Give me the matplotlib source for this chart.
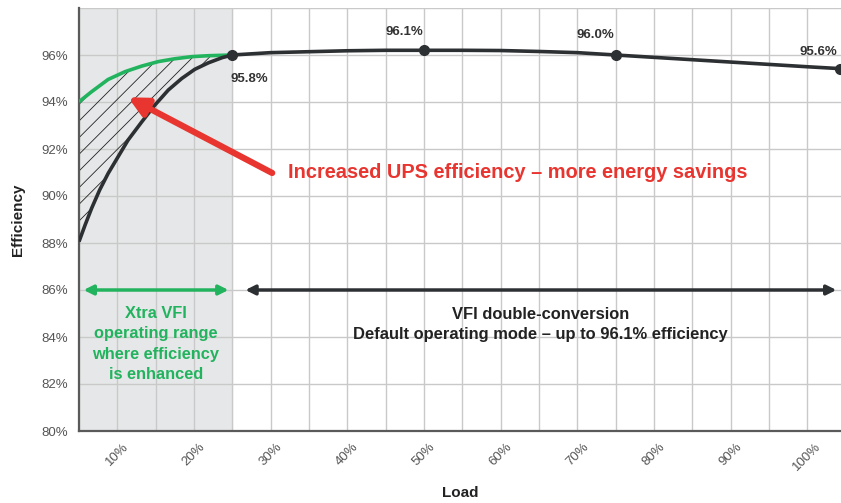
import numpy as np
import matplotlib
matplotlib.use('Agg')
from matplotlib import pyplot as plt

plt.rcParams['font.family'] = ['Liberation Sans', 'DejaVu Sans']
plt.rcParams['hatch.linewidth'] = 0.6

# standard VFI double-conversion curve (load %, efficiency %)
load_std = [5.0, 5.8, 6.65, 7.7, 8.8, 10.1, 11.4, 13.2, 14.9, 16.65, 18.4, 20.1, 21.9, 23.7, 25.0,
            30, 35, 40, 45, 50, 55, 60, 65, 70, 75, 80, 85, 90, 95, 100, 104.3]
eff_std = [88.06, 88.77, 89.48, 90.26, 90.96, 91.67, 92.38, 93.16, 93.87, 94.51, 95.0, 95.39, 95.67, 95.89, 96.0,
           96.1, 96.14, 96.18, 96.2, 96.2, 96.2, 96.19, 96.15, 96.1, 96.0, 95.9, 95.8, 95.7, 95.6, 95.5, 95.42]

# Xtra VFI curve
load_xtra = [5.0, 6.65, 8.8, 11.0, 13.2, 15.35, 17.5, 19.7, 21.9, 25.0]
eff_xtra = [94.01, 94.44, 94.96, 95.29, 95.53, 95.72, 95.84, 95.93, 95.97, 96.0]

# labelled points
pt_load = [25, 50, 75, 104.3]
pt_eff = [96.0, 96.2, 96.0, 95.42]
pt_text = ['95.8%', '96.1%', '96.0%', '95.6%']

dark = '#2d3033'
green = '#22b35e'
red = '#e8352f'
grid_c = '#c9c9c9'
tick_c = '#555555'

fig = plt.figure(figsize=(8.41, 5.03), dpi=100)
ax = fig.add_axes([79/841, 1 - 431/503, 1 - 79/841, (431 - 8)/503])

ax.set_xlim(5, 104.4)
ax.set_ylim(80, 98)

# shaded Xtra VFI zone
ax.axvspan(5, 25, color='#e6e7e8', zorder=0)

ax.set_xticks(np.arange(10, 101, 10))
ax.set_xticks(np.arange(5, 105, 5), minor=True)
ax.set_yticks(np.arange(80, 97, 2))
ax.set_yticks([98], minor=True)
ax.set_xticklabels(['{}%'.format(v) for v in range(10, 101, 10)], rotation=45,
                   ha='center', color=tick_c, fontsize=9.5)
ax.set_yticklabels(['{}%'.format(v) for v in range(80, 97, 2)], color=tick_c, fontsize=9.5)
ax.tick_params(which='both', length=0)
ax.tick_params(axis='x', pad=7)
ax.tick_params(axis='y', pad=8)
ax.grid(True, which='both', color=grid_c, lw=1, zorder=1)
ax.set_axisbelow(True)

for s in ['top', 'right']:
    ax.spines[s].set_visible(False)
for s in ['left', 'bottom']:
    ax.spines[s].set_color('#5a5a5a')
    ax.spines[s].set_linewidth(1.6)

# hatched gain area between curves
std_part = np.interp(load_xtra, load_std[:15], eff_std[:15])
ax.fill_between(load_xtra, std_part, eff_xtra, facecolor='none', edgecolor='#222222',
                hatch='//', lw=0, zorder=2)

ax.plot(load_xtra, eff_xtra, color=green, lw=2.6, zorder=3, solid_capstyle='butt')
ax.plot(load_std, eff_std, color=dark, lw=2.6, zorder=4, solid_capstyle='butt')
ax.plot(pt_load, pt_eff, 'o', color=dark, ms=7, zorder=5, clip_on=False)

offs = [(2.2, -1.0), (-2.6, 0.78), (-2.6, 0.85), (-2.8, 0.7)]
for x, y, t, (dx, dy) in zip(pt_load, pt_eff, pt_text, offs):
    ax.text(x + dx, y + dy, t, ha='center', va='center', fontsize=9.5,
            fontweight='bold', color='#333333')

# red arrow + message
ax.annotate('', xy=(11.4, 94.2), xytext=(30.2, 90.98),
            arrowprops=dict(arrowstyle='-|>', color=red, lw=4.5, mutation_scale=28,
                            shrinkA=0, shrinkB=0), zorder=6)
ax.text(32.2, 91.0, 'Increased UPS efficiency \u2013 more energy savings', color=red,
        fontsize=14.4, fontweight='bold', ha='left', va='center')

# range arrows
ax.annotate('', xy=(5.6, 86.0), xytext=(24.5, 86.0),
            arrowprops=dict(arrowstyle='<|-|>', color=green, lw=2.5, mutation_scale=14,
                            shrinkA=0, shrinkB=0))
ax.annotate('', xy=(26.7, 86.0), xytext=(103.8, 86.0),
            arrowprops=dict(arrowstyle='<|-|>', color=dark, lw=2.5, mutation_scale=14,
                            shrinkA=0, shrinkB=0))

ax.text(15.0, 85.3, 'Xtra VFI\noperating range\nwhere efficiency\nis enhanced',
        color=green, fontsize=11.8, fontweight='bold', ha='center', va='top', linespacing=1.42)
ax.text(65.2, 85.27, 'VFI double-conversion\nDefault operating mode \u2013 up to 96.1% efficiency',
        color='#222222', fontsize=11.9, fontweight='bold', ha='center', va='top',
        linespacing=1.42)

ax.set_xlabel('Load', fontsize=11, fontweight='bold', color='#222222', labelpad=9)
ax.set_ylabel('Efficiency', fontsize=11, fontweight='bold', color='#222222', labelpad=12)

fig.savefig('out.png', dpi=100)
